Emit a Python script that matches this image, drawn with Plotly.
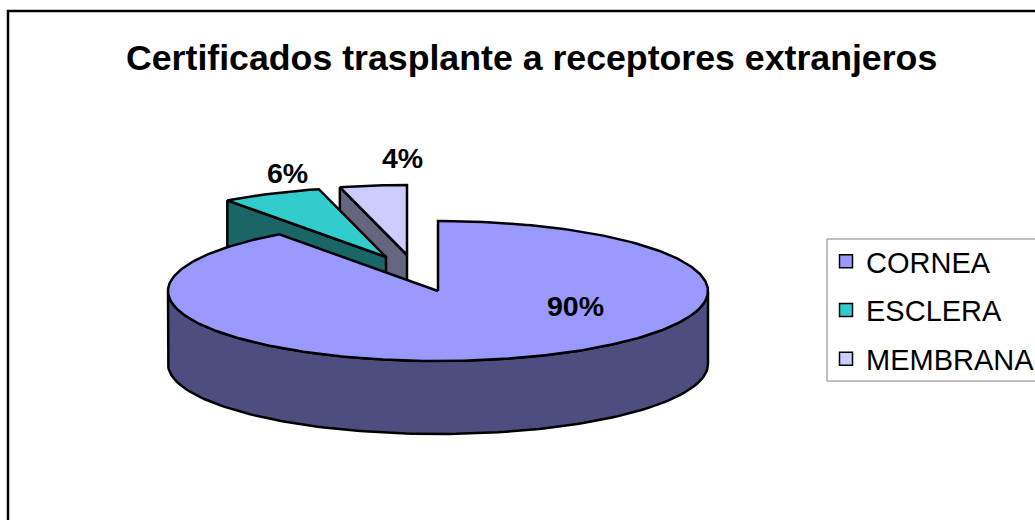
import numpy as np
import plotly.graph_objects as go

categories = ["CORNEA", "ESCLERA", "MEMBRANA"]
values = [90, 6, 4]
labels = ["90%", "6%", "4%"]
top_colors = ["#9999FF", "#33CCCC", "#CCCCFF"]
side_colors = ["#4D4D80", "#1A6666", "#666680"]
title = "Certificados trasplante a receptores extranjeros"

# pie geometry (axis units = pixels of the picture)
CX, CY = 438, 291
RX, RY = 270, 70
DEPTH = 73
OFFSET = [(0, 0), (-52, -34), (-31, -36)]
LABEL_POS = [(575, 306), (287, 173), (402, 158)]

total = sum(values)
edges = np.concatenate([[0], np.cumsum(values)]) / total * 2 * np.pi


def pt(a, c):
    return c[0] + RX * np.sin(a), c[1] - RY * np.cos(a)


fig = go.Figure()


def poly(xs, ys, fill):
    fig.add_trace(go.Scatter(
        x=list(xs) + [xs[0]], y=list(ys) + [ys[0]], mode="lines", fill="toself",
        fillcolor=fill, line=dict(color="black", width=2.5),
        hoverinfo="skip", showlegend=False))


# draw back slices first (membrana, esclera), cornea last
for i in [2, 1, 0]:
    c = (CX + OFFSET[i][0], CY + OFFSET[i][1])
    a0, a1 = edges[i], edges[i + 1]
    arc = np.linspace(a0, a1, max(int((a1 - a0) * 60), 8))
    ax, ay = pt(arc, c)
    if i == 0:
        # outer wall: the visible lower half of the rim
        vis = np.linspace(np.pi / 2, 3 * np.pi / 2, 120)
        vx, vy = pt(vis, c)
        poly(np.r_[vx, vx[::-1]], np.r_[vy, vy[::-1] + DEPTH], side_colors[i])
    else:
        # cut face along the slice's first straight edge
        ex, ey = pt(a0, c)
        poly([ex, c[0], c[0], ex], [ey, c[1], c[1] + DEPTH, ey + DEPTH], side_colors[i])
    poly(np.r_[c[0], ax], np.r_[c[1], ay], top_colors[i])

# frame of the chart area, and the legend box (both run off the picture)
fig.add_shape(type="rect", x0=8, y0=11, x1=1200, y1=700,
              line=dict(color="black", width=2.5), layer="above")
fig.add_shape(type="rect", x0=827, y0=239, x1=1200, y1=381,
              line=dict(color="#808080", width=1), fillcolor="white", layer="above")

# legend entries
for name, col in zip(categories, top_colors):
    fig.add_trace(go.Scatter(
        x=[None], y=[None], mode="markers", name=name, legendgroup=name,
        marker=dict(symbol="square", size=13, color=col, line=dict(color="black", width=1.5))))

for (lx, ly), t in zip(LABEL_POS, labels):
    fig.add_annotation(x=lx, y=ly, text=f"<b>{t}</b>", showarrow=False,
                       font=dict(family="Liberation Sans", size=28.5, color="black"))

fig.add_annotation(x=531, y=58, text=f"<b>{title}</b>", showarrow=False,
                   font=dict(family="Liberation Sans", size=35.7, color="black"))

fig.update_layout(
    width=1035, height=520, margin=dict(l=0, r=0, t=0, b=0, autoexpand=False),
    paper_bgcolor="white", plot_bgcolor="white",
    xaxis=dict(range=[0, 1035], visible=False, fixedrange=True),
    yaxis=dict(range=[520, 0], visible=False, fixedrange=True),
    legend=dict(x=826 / 1035, y=1 - 236 / 520, xanchor="left", yanchor="top",
                borderwidth=0, bgcolor="rgba(0,0,0,0)",
                tracegroupgap=8,
                font=dict(family="Liberation Sans", size=29, color="black")),
)

fig.write_html("out.html", config=dict(displayModeBar=False),
               post_script="document.body.style.margin='0';")
